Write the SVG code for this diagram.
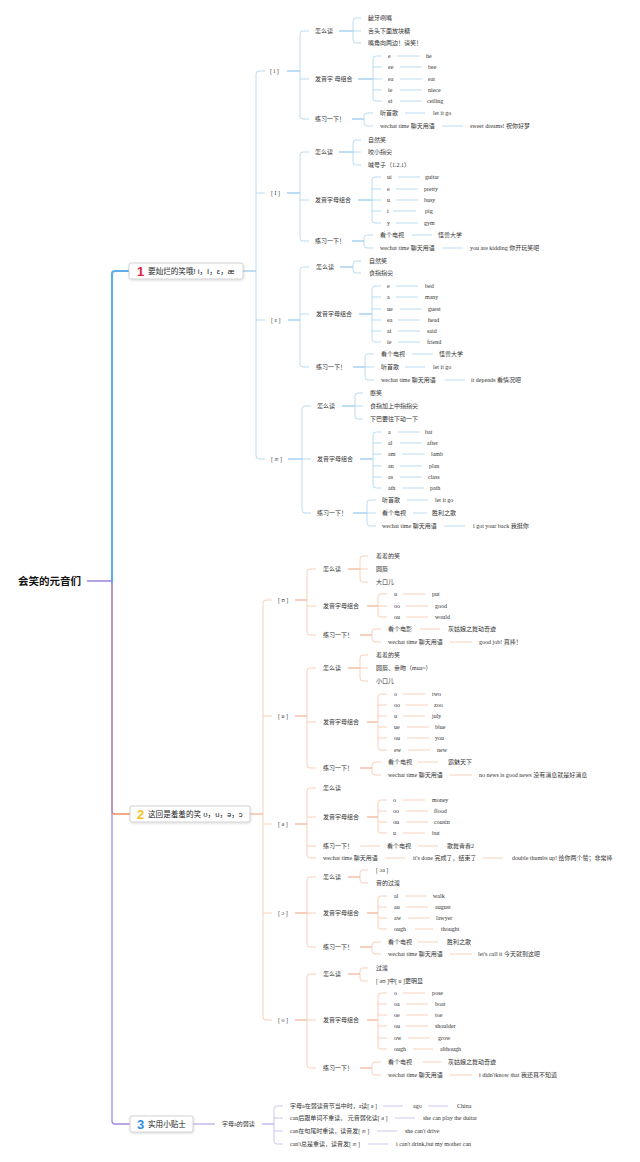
<svg xmlns="http://www.w3.org/2000/svg" width="640" height="1162" viewBox="0 0 640 1162">
<style>
.t{font-family:"Liberation Serif","Noto Sans CJK SC",serif;font-size:6px;fill:#333;dominant-baseline:central}
.n{font-family:"Liberation Sans","Noto Sans CJK SC",sans-serif;font-size:7.6px;fill:#222;dominant-baseline:central}
.num{font-family:"Liberation Sans",sans-serif;font-size:13px;font-weight:bold;dominant-baseline:central}
.root{font-family:"Liberation Sans","Noto Sans CJK SC",sans-serif;font-size:10.5px;font-weight:bold;fill:#111;dominant-baseline:central}
.lb{stroke:#a9d3f0;stroke-width:0.8;fill:none}
.lbd{stroke:#7dbbe8;stroke-width:1;fill:none}
.lo{stroke:#f8c4a8;stroke-width:0.8;fill:none}
.lod{stroke:#f2a07c;stroke-width:1;fill:none}
.lp{stroke:#c4b6ea;stroke-width:0.8;fill:none}
.lpd{stroke:#a993de;stroke-width:1;fill:none}
.box{fill:#fff;stroke:#c8c8c8;stroke-width:0.8}
</style>
<defs>
<filter id="sh" x="-10%" y="-30%" width="120%" height="170%"><feDropShadow dx="0.5" dy="1" stdDeviation="0.8" flood-color="#000" flood-opacity="0.15"/></filter>
</defs>
<g id="connectors">
<path d="M112,581 V811 Q112,814 115,814 H130" stroke="#f28c5c" stroke-width="1.5" fill="none"/>
<path d="M112,581 V1121 Q112,1124 115,1124 H130" stroke="#a58be0" stroke-width="1.3" fill="none"/>
<path d="M130,271 H115 Q112,271 112,274 V583" stroke="#62aeea" stroke-width="2.2" fill="none"/>
<path d="M87,581 H112" stroke="#9a82d8" stroke-width="1.5" fill="none"/>
<!-- branch 1 -->
<path class="lbd" d="M243,271 H256"/>
<path class="lb" d="M265,71 H259 Q256,71 256,74 V456 Q256,459 259,459 H265 M256,193 H265 M256,320 H265"/>
<path class="lbd" d="M287,71 H300 M339,31 H353 M358,79 H373 M352,119 H364"/>
<path class="lb" d="M309,31 H303 Q300,31 300,34 V116 Q300,119 303,119 H309 M300,79 H309"/>
<path class="lb" d="M361,18 H356 Q353,18 353,21 V40 Q353,43 356,43 H361 M353,31 H361"/>
<path class="lb" d="M382,56 H376 Q373,56 373,59 V98 Q373,101 376,101 H382 M373,67 H382 M373,79 H382 M373,90 H382"/>
<path class="lb" d="M397,56 H420 M400,67 H422 M400,79 H422 M400,90 H422 M400,101 H422"/>
<path class="lb" d="M373,113 H367 Q364,113 364,116 V123 Q364,126 367,126 H373 M405,113 H425 M442,126 H463"/>
<path class="lbd" d="M287,193 H300 M339,152 H353 M358,200 H372 M352,241 H364"/>
<path class="lb" d="M309,152 H303 Q300,152 300,155 V238 Q300,241 303,241 H309 M300,200 H309"/>
<path class="lb" d="M361,140 H356 Q353,140 353,143 V162 Q353,165 356,165 H361 M353,152 H361"/>
<path class="lb" d="M381,177 H375 Q372,177 372,180 V220 Q372,223 375,223 H381 M372,189 H381 M372,200 H381 M372,211 H381"/>
<path class="lb" d="M398,177 H420 M396,189 H418 M396,200 H418 M393,211 H416 M396,223 H418"/>
<path class="lb" d="M373,235 H367 Q364,235 364,238 V245 Q364,248 367,248 H373 M412,235 H432 M443,248 H463"/>
<path class="lbd" d="M288,320 H300 M340,267 H353 M359,314 H372 M353,367 H365"/>
<path class="lb" d="M309,267 H303 Q300,267 300,270 V364 Q300,367 303,367 H309 M300,314 H309"/>
<path class="lb" d="M361,261 H356 Q353,261 353,264 V270 Q353,273 356,273 H361"/>
<path class="lb" d="M381,286 H375 Q372,286 372,289 V339 Q372,342 375,342 H381 M372,297 H381 M372,309 H381 M372,320 H381 M372,331 H381"/>
<path class="lb" d="M396,286 H418 M396,297 H418 M400,309 H422 M398,320 H420 M398,331 H420 M398,342 H420"/>
<path class="lb" d="M374,354 H368 Q365,354 365,357 V377 Q365,380 368,380 H374 M365,367 H374 M412,354 H433 M405,367 H425 M445,380 H465"/>
<path class="lbd" d="M288,459 H302 M342,406 H355 M360,459 H373 M353,513 H367"/>
<path class="lb" d="M311,406 H305 Q302,406 302,409 V510 Q302,513 305,513 H311 M302,459 H311"/>
<path class="lb" d="M363,393 H358 Q355,393 355,396 V416 Q355,419 358,419 H363 M355,406 H363"/>
<path class="lb" d="M382,432 H376 Q373,432 373,435 V485 Q373,488 376,488 H382 M373,443 H382 M373,454 H382 M373,466 H382 M373,477 H382"/>
<path class="lb" d="M398,432 H420 M400,443 H422 M402,454 H425 M400,466 H422 M400,477 H422 M402,488 H424"/>
<path class="lb" d="M376,500 H370 Q367,500 367,503 V523 Q367,526 370,526 H376 M367,513 H376 M407,500 H428 M413,513 H427 M444,526 H465"/>
<!-- branch 2 -->
<path class="lod" d="M250,814 H263"/>
<path class="lo" d="M272,600 H266 Q263,600 263,603 V1017 Q263,1020 266,1020 H272 M263,716 H272 M263,824 H272 M263,913 H272"/>
<path class="lod" d="M295,600 H307 M348,569 H360 M367,606 H378 M360,635 H372"/>
<path class="lo" d="M316,569 H310 Q307,569 307,572 V632 Q307,635 310,635 H316 M307,606 H316"/>
<path class="lo" d="M368,556 H363 Q360,556 360,559 V579 Q360,582 363,582 H368 M360,569 H368"/>
<path class="lo" d="M387,594 H381 Q378,594 378,597 V614 Q378,617 381,617 H387 M378,606 H387 M403,594 H425 M406,606 H428 M406,617 H428"/>
<path class="lo" d="M381,629 H375 Q372,629 372,632 V639 Q372,642 375,642 H381 M420,629 H440 M450,642 H472"/>
<path class="lod" d="M295,716 H307 M348,668 H360 M367,722 H378 M360,768 H372"/>
<path class="lo" d="M316,668 H310 Q307,668 307,671 V765 Q307,768 310,768 H316 M307,722 H316"/>
<path class="lo" d="M368,655 H363 Q360,655 360,658 V678 Q360,681 363,681 H368 M360,668 H368"/>
<path class="lo" d="M387,694 H381 Q378,694 378,697 V747 Q378,750 381,750 H387 M378,705 H387 M378,716 H387 M378,727 H387 M378,738 H387"/>
<path class="lo" d="M403,694 H425 M406,705 H428 M403,716 H425 M407,727 H429 M407,738 H429 M408,750 H430"/>
<path class="lo" d="M381,762 H375 Q372,762 372,765 V772 Q372,775 375,775 H381 M418,762 H438 M450,775 H472"/>
<path class="lod" d="M295,824 H307 M367,817 H378"/>
<path class="lo" d="M316,788 H310 Q307,788 307,791 V855 Q307,858 310,858 H316 M307,817 H316 M307,846 H316"/>
<path class="lo" d="M387,800 H381 Q378,800 378,803 V830 Q378,833 381,833 H387 M378,811 H387 M378,822 H387"/>
<path class="lo" d="M403,800 H425 M406,811 H428 M406,822 H428 M403,833 H425"/>
<path class="lo" d="M360,846 H380 M418,846 H438 M385,858 H405 M483,858 H503"/>
<path class="lod" d="M295,913 H307 M348,877 H360 M367,913 H378 M360,947 H372"/>
<path class="lo" d="M316,877 H310 Q307,877 307,880 V944 Q307,947 310,947 H316 M307,913 H316"/>
<path class="lo" d="M368,870 H363 Q360,870 360,873 V880 Q360,883 363,883 H368"/>
<path class="lo" d="M387,896 H381 Q378,896 378,899 V926 Q378,929 381,929 H387 M378,907 H387 M378,918 H387"/>
<path class="lo" d="M405,896 H427 M406,907 H428 M408,918 H430 M415,929 H433"/>
<path class="lo" d="M381,942 H375 Q372,942 372,945 V951 Q372,954 375,954 H381 M418,942 H438 M450,954 H472"/>
<path class="lod" d="M295,1020 H307 M348,974 H360 M367,1020 H378 M360,1068 H372"/>
<path class="lo" d="M316,974 H310 Q307,974 307,977 V1065 Q307,1068 310,1068 H316 M307,1020 H316"/>
<path class="lo" d="M368,968 H363 Q360,968 360,971 V978 Q360,981 363,981 H368"/>
<path class="lo" d="M387,993 H381 Q378,993 378,996 V1046 Q378,1049 381,1049 H387 M378,1004 H387 M378,1015 H387 M378,1026 H387 M378,1038 H387"/>
<path class="lo" d="M403,993 H425 M406,1004 H428 M406,1015 H428 M406,1026 H428 M408,1038 H430 M413,1049 H433"/>
<path class="lo" d="M381,1062 H375 Q372,1062 372,1065 V1072 Q372,1075 375,1075 H381 M422,1062 H442 M450,1075 H472"/>
<!-- branch 3 -->
<path class="lpd" d="M193,1124 H215 M262,1124 H274"/>
<path class="lp" d="M283,1106 H277 Q274,1106 274,1109 V1141 Q274,1144 277,1144 H283 M274,1118 H283 M274,1131 H283"/>
<path class="lp" d="M383,1106 H403 M428,1106 H448 M395,1118 H415 M377,1131 H397 M368,1144 H388"/>
</g>
<g id="root"><text class="root" x="18" y="581">会笑的元音们</text></g>
<g id="node1">
<rect class="box" x="129" y="263" width="114" height="16" rx="2" filter="url(#sh)"/>
<text class="num" x="137" y="271.5" fill="#e5213a">1</text>
<text class="n" x="148" y="271.5">要灿烂的笑哦! i，I，ε，æ</text>
</g>
<g id="n1-i">
<text class="t" x="270" y="71">[ i ]</text>
<text class="t" x="315" y="31">怎么读</text>
<text class="t" x="368" y="18">龇牙咧嘴</text>
<text class="t" x="368" y="31">舌头下面放块糖</text>
<text class="t" x="368" y="43">嘴角向两边！请笑！</text>
<text class="t" x="315" y="79">发音字 母组合</text>
<text class="t" x="388" y="56">e</text><text class="t" x="426" y="56">he</text>
<text class="t" x="388" y="67">ee</text><text class="t" x="428" y="67">bee</text>
<text class="t" x="388" y="79">ea</text><text class="t" x="428" y="79">eat</text>
<text class="t" x="388" y="90">ie</text><text class="t" x="428" y="90">niece</text>
<text class="t" x="388" y="101">ei</text><text class="t" x="427" y="101">ceiling</text>
<text class="t" x="315" y="119">练习一下！</text>
<text class="t" x="380" y="113">听首歌</text><text class="t" x="433" y="113">let it go</text>
<text class="t" x="380" y="126">wechat time 聊天用语</text><text class="t" x="470" y="126">sweet dreams! 祝你好梦</text>
</g>
<g id="n1-I">
<text class="t" x="271" y="193">[ I ]</text>
<text class="t" x="315" y="152">怎么读</text>
<text class="t" x="368" y="140">自然笑</text>
<text class="t" x="368" y="152">咬小指尖</text>
<text class="t" x="368" y="165">喊号子（1.2.1）</text>
<text class="t" x="315" y="200">发音字母组合</text>
<text class="t" x="387" y="177">ui</text><text class="t" x="425" y="177">guitar</text>
<text class="t" x="387" y="189">e</text><text class="t" x="424" y="189">pretty</text>
<text class="t" x="387" y="200">u</text><text class="t" x="424" y="200">busy</text>
<text class="t" x="387" y="211">i</text><text class="t" x="425" y="211">pig</text>
<text class="t" x="387" y="223">y</text><text class="t" x="424" y="223">gym</text>
<text class="t" x="315" y="241">练习一下！</text>
<text class="t" x="380" y="235">看个电视</text><text class="t" x="438" y="235">怪兽大学</text>
<text class="t" x="380" y="248">wechat time 聊天用语</text><text class="t" x="470" y="248">you are kidding 你开玩笑吧</text>
</g>
<g id="n1-e">
<text class="t" x="271" y="320">[ ε ]</text>
<text class="t" x="316" y="267">怎么读</text>
<text class="t" x="369" y="261">自然笑</text>
<text class="t" x="369" y="273">食指指尖</text>
<text class="t" x="316" y="314">发音字母组合</text>
<text class="t" x="387" y="286">e</text><text class="t" x="425" y="286">bed</text>
<text class="t" x="387" y="297">a</text><text class="t" x="425" y="297">many</text>
<text class="t" x="387" y="309">ue</text><text class="t" x="428" y="309">guest</text>
<text class="t" x="387" y="320">ea</text><text class="t" x="428" y="320">head</text>
<text class="t" x="387" y="331">ai</text><text class="t" x="427" y="331">said</text>
<text class="t" x="387" y="342">ie</text><text class="t" x="427" y="342">friend</text>
<text class="t" x="316" y="367">练习一下！</text>
<text class="t" x="381" y="354">看个电视</text><text class="t" x="439" y="354">怪兽大学</text>
<text class="t" x="381" y="367">听首歌</text><text class="t" x="433" y="367">let it go</text>
<text class="t" x="381" y="380">wechat time 聊天用语</text><text class="t" x="471" y="380">it depends 看情况吧</text>
</g>
<g id="n1-ae">
<text class="t" x="271" y="459">[ æ ]</text>
<text class="t" x="317" y="406">怎么读</text>
<text class="t" x="370" y="393">憨笑</text>
<text class="t" x="370" y="406">食指加上中指指尖</text>
<text class="t" x="370" y="419">下巴要往下动一下</text>
<text class="t" x="317" y="459">发音字母组合</text>
<text class="t" x="388" y="432">a</text><text class="t" x="425" y="432">bat</text>
<text class="t" x="388" y="443">al</text><text class="t" x="427" y="443">after</text>
<text class="t" x="388" y="454">am</text><text class="t" x="431" y="454">lamb</text>
<text class="t" x="388" y="466">an</text><text class="t" x="429" y="466">plan</text>
<text class="t" x="388" y="477">as</text><text class="t" x="428" y="477">class</text>
<text class="t" x="388" y="488">ath</text><text class="t" x="430" y="488">path</text>
<text class="t" x="317" y="513">练习一下！</text>
<text class="t" x="382" y="500">听首歌</text><text class="t" x="435" y="500">let it go</text>
<text class="t" x="382" y="513">看个电视</text><text class="t" x="432" y="513">胜利之歌</text>
<text class="t" x="382" y="526">wechat time 聊天用语</text><text class="t" x="473" y="526">i got your back 我挺你</text>
</g>
<g id="node2">
<rect class="box" x="130" y="806" width="120" height="16" rx="2" filter="url(#sh)"/>
<text class="num" x="137" y="814.5" fill="#f5c21b">2</text>
<text class="n" x="148" y="814.5">这回是羞羞的笑 ʊ，u，ə，ɔ</text>
</g>
<g id="n2-U">
<text class="t" x="278" y="600">[ ʊ ]</text>
<text class="t" x="323" y="569">怎么读</text>
<text class="t" x="376" y="556">羞羞的笑</text>
<text class="t" x="376" y="569">圆唇</text>
<text class="t" x="376" y="582">大口儿</text>
<text class="t" x="323" y="606">发音字母组合</text>
<text class="t" x="394" y="594">u</text><text class="t" x="432" y="594">put</text>
<text class="t" x="394" y="606">oo</text><text class="t" x="435" y="606">good</text>
<text class="t" x="394" y="617">ou</text><text class="t" x="435" y="617">would</text>
<text class="t" x="323" y="635">练习一下！</text>
<text class="t" x="388" y="629">看个电影</text><text class="t" x="448" y="629">灰姑娘之舞动奇迹</text>
<text class="t" x="388" y="642">wechat time 聊天用语</text><text class="t" x="479" y="642">good job! 真棒！</text>
</g>
<g id="n2-u">
<text class="t" x="278" y="716">[ u ]</text>
<text class="t" x="323" y="668">怎么读</text>
<text class="t" x="376" y="655">羞羞的笑</text>
<text class="t" x="376" y="668">圆唇、亲吻（mua~）</text>
<text class="t" x="376" y="681">小口儿</text>
<text class="t" x="323" y="722">发音字母组合</text>
<text class="t" x="394" y="694">o</text><text class="t" x="432" y="694">two</text>
<text class="t" x="394" y="705">oo</text><text class="t" x="434" y="705">zoo</text>
<text class="t" x="394" y="716">u</text><text class="t" x="432" y="716">july</text>
<text class="t" x="394" y="727">ue</text><text class="t" x="435" y="727">blue</text>
<text class="t" x="394" y="738">ou</text><text class="t" x="435" y="738">you</text>
<text class="t" x="394" y="750">ew</text><text class="t" x="437" y="750">new</text>
<text class="t" x="323" y="768">练习一下！</text>
<text class="t" x="388" y="762">看个电视</text><text class="t" x="448" y="762">霸魅天下</text>
<text class="t" x="388" y="775">wechat time 聊天用语</text><text class="t" x="479" y="775">no news is good news 没有消息就是好消息</text>
</g>
<g id="n2-schwa">
<text class="t" x="278" y="824">[ ə ]</text>
<text class="t" x="323" y="788">怎么读</text>
<text class="t" x="323" y="817">发音字母组合</text>
<text class="t" x="393" y="800">o</text><text class="t" x="432" y="800">money</text>
<text class="t" x="393" y="811">oo</text><text class="t" x="434" y="811">flood</text>
<text class="t" x="393" y="822">ou</text><text class="t" x="434" y="822">cousin</text>
<text class="t" x="393" y="833">u</text><text class="t" x="432" y="833">but</text>
<text class="t" x="323" y="846">练习一下！</text>
<text class="t" x="387" y="846">看个电视</text><text class="t" x="447" y="846">歌舞青春2</text>
<text class="t" x="323" y="858">wechat time 聊天用语</text>
<text class="t" x="413" y="858">it's done 完成了，结束了</text>
<text class="t" x="512" y="858">double thumbs up! 给你两个赞；非常棒</text>
</g>
<g id="n2-o-open">
<text class="t" x="278" y="913">[ ɔ ]</text>
<text class="t" x="323" y="877">怎么读</text>
<text class="t" x="376" y="870">[ ɔa ]</text>
<text class="t" x="376" y="883">音的过渡</text>
<text class="t" x="323" y="913">发音字母组合</text>
<text class="t" x="394" y="896">al</text><text class="t" x="433" y="896">walk</text>
<text class="t" x="394" y="907">au</text><text class="t" x="435" y="907">august</text>
<text class="t" x="394" y="918">aw</text><text class="t" x="436" y="918">lawyer</text>
<text class="t" x="394" y="929">ough</text><text class="t" x="441" y="929">thought</text>
<text class="t" x="323" y="947">练习一下！</text>
<text class="t" x="388" y="942">看个电视</text><text class="t" x="447" y="942">胜利之歌</text>
<text class="t" x="388" y="954">wechat time 聊天用语</text><text class="t" x="478" y="954">let's call it 今天就到这吧</text>
</g>
<g id="n2-o">
<text class="t" x="278" y="1020">[ o ]</text>
<text class="t" x="323" y="974">怎么读</text>
<text class="t" x="376" y="968">过渡</text>
<text class="t" x="376" y="981">[ əʊ ]中[ u ]更明显</text>
<text class="t" x="323" y="1020">发音字母组合</text>
<text class="t" x="394" y="993">o</text><text class="t" x="432" y="993">pose</text>
<text class="t" x="394" y="1004">oa</text><text class="t" x="435" y="1004">boat</text>
<text class="t" x="394" y="1015">oe</text><text class="t" x="435" y="1015">toe</text>
<text class="t" x="394" y="1026">ou</text><text class="t" x="435" y="1026">shoulder</text>
<text class="t" x="394" y="1038">ow</text><text class="t" x="438" y="1038">grow</text>
<text class="t" x="394" y="1049">ough</text><text class="t" x="440" y="1049">although</text>
<text class="t" x="323" y="1068">练习一下！</text>
<text class="t" x="388" y="1062">看个电视</text><text class="t" x="448" y="1062">灰姑娘之舞动奇迹</text>
<text class="t" x="388" y="1075">wechat time 聊天用语</text><text class="t" x="479" y="1075">i didn'tknow that 我还真不知道</text>
</g>
<g id="node3">
<rect class="box" x="130" y="1116" width="63" height="16" rx="2" filter="url(#sh)"/>
<text class="num" x="137" y="1124.5" fill="#2f8fe0">3</text>
<text class="n" x="148" y="1124.5">实用小贴士</text>
</g>
<g id="n3-a">
<text class="t" x="222" y="1124">字母a的弱读</text>
<text class="t" x="290" y="1106">字母a在弱读音节当中时，a读[ ə ]</text><text class="t" x="413" y="1106">ago</text><text class="t" x="457" y="1106">China</text>
<text class="t" x="290" y="1118">can后跟单词不重读， 元音弱化读[ ə ]</text><text class="t" x="423" y="1118">she can play the duitar</text>
<text class="t" x="290" y="1131">can在句尾时重读，读音发[ æ ]</text><text class="t" x="405" y="1131">she can't drive</text>
<text class="t" x="290" y="1144">can't总是重读，读音发[ æ ]</text><text class="t" x="396" y="1144">i can't drink,but my mother can</text>
</g>
</svg>
